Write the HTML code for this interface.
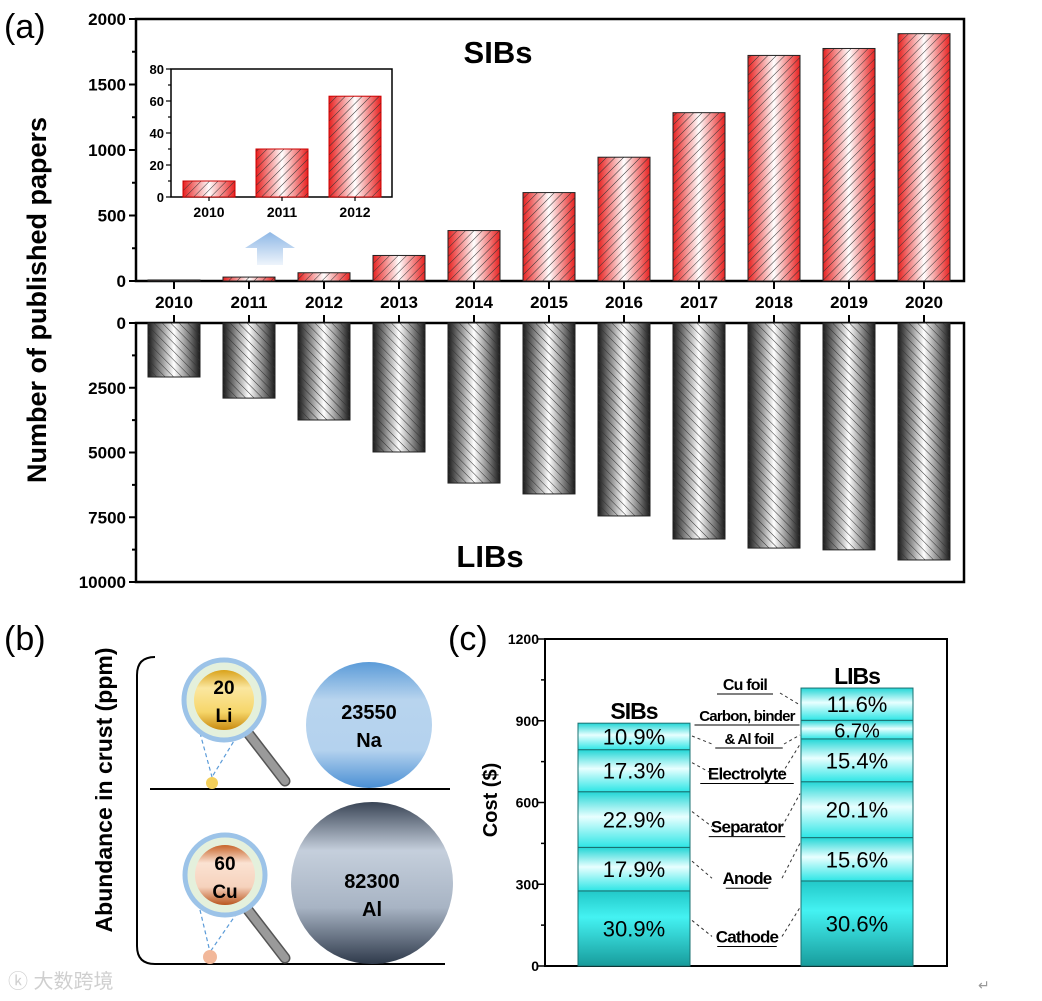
<!DOCTYPE html>
<html><head><meta charset="utf-8">
<style>
html,body{margin:0;padding:0;background:#fff;}
svg{display:block;font-family:"Liberation Sans","Noto Sans CJK SC",sans-serif;}
.b{font-weight:bold;}
</style></head>
<body>
<svg id="fig" width="1042" height="1001" viewBox="0 0 1042 1001" xmlns="http://www.w3.org/2000/svg">
<defs>
  <linearGradient id="redG" x1="0" x2="1" y1="0" y2="0">
    <stop offset="0" stop-color="#e8201f"/><stop offset="0.5" stop-color="#ffffff"/><stop offset="1" stop-color="#e8201f"/>
  </linearGradient>
  <linearGradient id="blkG" x1="0" x2="1" y1="0" y2="0">
    <stop offset="0" stop-color="#1a1a1a"/><stop offset="0.5" stop-color="#ffffff"/><stop offset="1" stop-color="#1a1a1a"/>
  </linearGradient>
  <pattern id="hatchR" width="6" height="6" patternUnits="userSpaceOnUse" patternTransform="rotate(45)">
    <line x1="0" y1="0" x2="0" y2="6" stroke="#333" stroke-width="1"/>
  </pattern>
  <pattern id="hatchB" width="6" height="6" patternUnits="userSpaceOnUse" patternTransform="rotate(-45)">
    <line x1="0" y1="0" x2="0" y2="6" stroke="#333" stroke-width="1"/>
  </pattern>
  <linearGradient id="segG" x1="0" x2="0" y1="0" y2="1">
    <stop offset="0" stop-color="#22d6d6"/><stop offset="0.45" stop-color="#e8ffff"/><stop offset="1" stop-color="#2ee6e6"/>
  </linearGradient>
  <linearGradient id="cathG" x1="0" x2="0" y1="0" y2="1">
    <stop offset="0" stop-color="#22c8c8"/><stop offset="0.35" stop-color="#44f2f2"/><stop offset="1" stop-color="#189c9c"/>
  </linearGradient>
  <linearGradient id="arrowG" x1="0" x2="0" y1="0" y2="1">
    <stop offset="0" stop-color="#8fb8e6"/><stop offset="1" stop-color="#eef4fb"/>
  </linearGradient>
  <linearGradient id="naG" x1="0" x2="0" y1="0" y2="1">
    <stop offset="0" stop-color="#5b9bd8"/><stop offset="0.3" stop-color="#b8d4ee"/><stop offset="0.7" stop-color="#b4d2ee"/><stop offset="1" stop-color="#4a8fd4"/>
  </linearGradient>
  <linearGradient id="alG" x1="0" x2="0" y1="0" y2="1">
    <stop offset="0" stop-color="#3a4556"/><stop offset="0.3" stop-color="#c5cfdc"/><stop offset="0.65" stop-color="#a8b4c4"/><stop offset="1" stop-color="#2f3a4b"/>
  </linearGradient>
  <linearGradient id="liG" x1="0" x2="0" y1="0" y2="1">
    <stop offset="0" stop-color="#d9a21a"/><stop offset="0.3" stop-color="#fbe7a0"/><stop offset="0.7" stop-color="#f6d66a"/><stop offset="1" stop-color="#c88a10"/>
  </linearGradient>
  <linearGradient id="cuG" x1="0" x2="0" y1="0" y2="1">
    <stop offset="0" stop-color="#c8652a"/><stop offset="0.3" stop-color="#fbe2d2"/><stop offset="0.7" stop-color="#f6d2bd"/><stop offset="1" stop-color="#b9561f"/>
  </linearGradient>
</defs>

<text x="4" y="38" font-size="34">(a)</text>
<text x="4" y="650" font-size="34">(b)</text>
<text x="448" y="650" font-size="34">(c)</text>

<g id="chartA"></g>
<g id="chartC"></g>

<g>
  <text transform="translate(112,790) rotate(-90)" text-anchor="middle" font-size="23" class="b">Abundance in crust (ppm)</text>
  <path d="M155,657 Q137,657 137,675 L137,946 Q137,964 155,964 L445,964" fill="none" stroke="#000" stroke-width="2"/>
  <line x1="150" y1="789" x2="450" y2="789" stroke="#000" stroke-width="2"/>
  <g>
    <line x1="248" y1="733" x2="285" y2="781" stroke="#555" stroke-width="11" stroke-linecap="round"/>
    <line x1="248" y1="733" x2="285" y2="781" stroke="#9a9a9a" stroke-width="8" stroke-linecap="round"/>
    <line x1="200" y1="733" x2="212" y2="777" stroke="#5b9bd8" stroke-width="1.2" stroke-dasharray="4,3"/>
    <line x1="237" y1="736" x2="212" y2="777" stroke="#5b9bd8" stroke-width="1.2" stroke-dasharray="4,3"/>
    <circle cx="212" cy="783" r="6" fill="#f3cf5a"/>
    <circle cx="224" cy="700" r="40" fill="#e4f0dc" stroke="#9cc3e8" stroke-width="5"/>
    <circle cx="224" cy="700" r="30" fill="url(#liG)"/>
    <text x="224" y="694" text-anchor="middle" font-size="19" class="b">20</text>
    <text x="224" y="722" text-anchor="middle" font-size="19" class="b">Li</text>
  </g>
  <g>
    <circle cx="369" cy="725" r="63" fill="url(#naG)"/>
    <text x="369" y="719" text-anchor="middle" font-size="20" class="b">23550</text>
    <text x="369" y="747" text-anchor="middle" font-size="20" class="b">Na</text>
  </g>
  <g>
    <line x1="248" y1="910" x2="285" y2="958" stroke="#555" stroke-width="11" stroke-linecap="round"/>
    <line x1="248" y1="910" x2="285" y2="958" stroke="#9a9a9a" stroke-width="8" stroke-linecap="round"/>
    <line x1="200" y1="910" x2="210" y2="952" stroke="#5b9bd8" stroke-width="1.2" stroke-dasharray="4,3"/>
    <line x1="237" y1="913" x2="210" y2="952" stroke="#5b9bd8" stroke-width="1.2" stroke-dasharray="4,3"/>
    <circle cx="210" cy="957" r="7" fill="#f2b89a"/>
    <circle cx="225" cy="875" r="40" fill="#e4f0dc" stroke="#9cc3e8" stroke-width="5"/>
    <circle cx="225" cy="875" r="30" fill="url(#cuG)"/>
    <text x="225" y="870" text-anchor="middle" font-size="19" class="b">60</text>
    <text x="225" y="898" text-anchor="middle" font-size="19" class="b">Cu</text>
  </g>
  <g>
    <circle cx="372" cy="883" r="81" fill="url(#alG)"/>
    <text x="372" y="888" text-anchor="middle" font-size="20" class="b">82300</text>
    <text x="372" y="916" text-anchor="middle" font-size="20" class="b">Al</text>
  </g>
</g>
<text x="8" y="988" font-size="20" fill="#cfcfcf">ⓚ 大数跨境</text>
<text x="978" y="990" font-size="14" fill="#999">↵</text>

<script>
const years = ["2010","2011","2012","2013","2014","2015","2016","2017","2018","2019","2020"];
const sibPapers = [8, 30, 63, 195, 385, 675, 945, 1285, 1722, 1775, 1888];
const libPapers = [2085, 2900, 3745, 4980, 6180, 6600, 7450, 8340, 8690, 8760, 9150];
const sibTicks = [0, 500, 1000, 1500, 2000];
const libTicks = [0, 2500, 5000, 7500, 10000];
const insetYears = ["2010","2011","2012"];
const insetPapers = [10, 30, 63];
const insetTicks = [0, 20, 40, 60, 80];
const costGroups = ["SIBs","LIBs"];
const sibCostPct = [30.9, 17.9, 22.9, 17.3, 10.9];
const libCostPct = [30.6, 15.6, 20.1, 15.4, 6.7, 11.6];
const sibTotal = 892;
const libTotal = 1020;
const costTicks = [0, 300, 600, 900, 1200];
const componentLabels = ["Cathode","Anode","Separator","Electrolyte"];

const NS = "http://www.w3.org/2000/svg";
function mk(tag, attrs, parent, txt){
  const e = document.createElementNS(NS, tag);
  for (const k in attrs) e.setAttribute(k, attrs[k]);
  if (txt !== undefined) e.textContent = txt;
  parent.appendChild(e);
  return e;
}

const A = document.getElementById("chartA");
const L = 136, R = 964;
const topY0 = 281, topY1 = 19;
const botY0 = 323, botY1 = 582;
const xC = i => 174 + i * 75;
const ySib = v => topY0 - (v / 2000) * (topY0 - topY1);
const yLib = v => botY0 + (v / 10000) * (botY1 - botY0);
const bw = 52;

let el;
el = mk("path", {d:`M${L},${topY1} L${R},${topY1} L${R},${topY0} L${L},${topY0} Z`, fill:"none", stroke:"#000", "stroke-width":2.5}, A);


el = mk("rect", {x:L, y:botY0, width:R-L, height:botY1-botY0, fill:"none", stroke:"#000", "stroke-width":2.5}, A);



for (let v = 0; v <= 2000; v += 250) {
  const y = ySib(v); const major = v % 500 === 0;
  el = mk("line", {x1:L-(major?7:4), y1:y, x2:L, y2:y, stroke:"#000", "stroke-width":2}, A);
  
  
}
sibTicks.forEach(v => {
  el = mk("text", {x:L-10, y:ySib(v)+6, "text-anchor":"end", "font-size":17, "font-weight":"bold"}, A, String(v));
  
  
});
for (let v = 0; v <= 10000; v += 1250) {
  const y = yLib(v); const major = v % 2500 === 0;
  el = mk("line", {x1:L-(major?7:4), y1:y, x2:L, y2:y, stroke:"#000", "stroke-width":2}, A);
  
  
}
libTicks.forEach(v => {
  el = mk("text", {x:L-10, y:yLib(v)+6, "text-anchor":"end", "font-size":17, "font-weight":"bold"}, A, String(v));
  
  
});

years.forEach((yr, i) => {
  const x = xC(i);
  el = mk("line", {x1:x, y1:topY0, x2:x, y2:topY0+8, stroke:"#000", "stroke-width":2}, A);
  
  
  el = mk("line", {x1:x, y1:botY0-8, x2:x, y2:botY0, stroke:"#000", "stroke-width":2}, A);
  
  
  el = mk("text", {x:x, y:308, "text-anchor":"middle", "font-size":17, "font-weight":"bold"}, A, yr);
  
  
  const yt = ySib(sibPapers[i]);
  const g1 = mk("g", {}, A);
  
  
  mk("rect", {x:x-bw/2, y:yt, width:bw, height:topY0-yt, fill:"url(#redG)"}, g1);
  mk("rect", {x:x-bw/2, y:yt, width:bw, height:topY0-yt, fill:"url(#hatchR)", stroke:"#222", "stroke-width":1}, g1);
  const yb = yLib(libPapers[i]);
  const g2 = mk("g", {}, A);
  
  
  mk("rect", {x:x-bw/2, y:botY0, width:bw, height:yb-botY0, fill:"url(#blkG)"}, g2);
  mk("rect", {x:x-bw/2, y:botY0, width:bw, height:yb-botY0, fill:"url(#hatchB)", stroke:"#222", "stroke-width":1}, g2);
});

el = mk("text", {transform:"translate(46,300) rotate(-90)", "text-anchor":"middle", "font-size":27, "font-weight":"bold"}, A, "Number of published papers");


el = mk("text", {x:498, y:63, "text-anchor":"middle", "font-size":31, "font-weight":"bold"}, A, "SIBs");


el = mk("text", {x:490, y:567, "text-anchor":"middle", "font-size":31, "font-weight":"bold"}, A, "LIBs");



el = mk("path", {d:"M270,232 L295,248 L283,248 L283,265 L257,265 L257,248 L245,248 Z", fill:"url(#arrowG)"}, A);



const iL = 171, iR = 392, iT = 69, iB = 197;
const yIn = v => iB - (v / 80) * (iB - iT);
const xIn = i => 209 + i * 73;
el = mk("rect", {x:iL, y:iT, width:iR-iL, height:iB-iT, fill:"#fff", stroke:"#000", "stroke-width":1.5}, A);


for (let v = 0; v <= 80; v += 10) {
  el = mk("line", {x1:iL-(v%20===0?5:3), y1:yIn(v), x2:iL, y2:yIn(v), stroke:"#000", "stroke-width":1.2}, A);
  
  
}
insetTicks.forEach(v => {
  el = mk("text", {x:iL-7, y:yIn(v)+5, "text-anchor":"end", "font-size":13, "font-weight":"bold"}, A, String(v));
  
  
});
insetYears.forEach((yr, i) => {
  const x = xIn(i), yt = yIn(insetPapers[i]);
  const g = mk("g", {}, A);
  
  
  mk("rect", {x:x-26, y:yt, width:52, height:iB-yt, fill:"url(#redG)"}, g);
  mk("rect", {x:x-26, y:yt, width:52, height:iB-yt, fill:"url(#hatchR)", stroke:"#c00", "stroke-width":1}, g);
  el = mk("line", {x1:x, y1:iB, x2:x, y2:iB+4, stroke:"#000", "stroke-width":1.2}, A);
  
  
  el = mk("text", {x:x, y:iB+20, "text-anchor":"middle", "font-size":14, "font-weight":"bold"}, A, yr);
  
  
});

const C = document.getElementById("chartC");
const cL = 545, cR = 947, cT = 639, cB = 966;
const yC = v => cB - (v / 1200) * (cB - cT);
el = mk("rect", {x:cL, y:cT, width:cR-cL, height:cB-cT, fill:"none", stroke:"#000", "stroke-width":2}, C);


for (let v = 0; v <= 1200; v += 150) {
  el = mk("line", {x1:cL-(v%300===0?7:4), y1:yC(v), x2:cL, y2:yC(v), stroke:"#000", "stroke-width":1.5}, C);
  
  
}
costTicks.forEach(v => {
  el = mk("text", {x:cL-6, y:yC(v)+5, "text-anchor":"end", "font-size":14, "font-weight":"bold"}, C, String(v));
  
  
});
el = mk("text", {transform:"translate(497,800) rotate(-90)", "text-anchor":"middle", "font-size":20, "font-weight":"bold"}, C, "Cost ($)");



function stack(pcts, total, x0, x1, name){
  let acc = 0; const bounds = [];
  pcts.forEach((p, k) => {
    const v = total * p / 100;
    const yTop = yC(acc + v), yBot = yC(acc);
    const r = mk("rect", {x:x0, y:yTop, width:x1-x0, height:yBot-yTop, fill: k===0 ? "url(#cathG)" : "url(#segG)", stroke:"#1a7070", "stroke-width":1}, C);
    
    
    const fs = (yBot - yTop) < 22 ? 20 : 22;
    const t = mk("text", {x:(x0+x1)/2, y:(yTop+yBot)/2+8, "text-anchor":"middle", "font-size":fs}, C, p.toFixed(1) + "%");
    
    
    bounds.push([yTop, yBot]);
    acc += v;
  });
  return bounds;
}
const sb = stack(sibCostPct, sibTotal, 578, 690, "sibs");
const lb = stack(libCostPct, libTotal, 801, 913, "libs");
el = mk("text", {x:634, y:yC(sibTotal)-4, "text-anchor":"middle", "font-size":23, "font-weight":"bold", "letter-spacing":"-1"}, C, costGroups[0]);


el = mk("text", {x:857, y:yC(libTotal)-4, "text-anchor":"middle", "font-size":23, "font-weight":"bold", "letter-spacing":"-1"}, C, costGroups[1]);



function lbl(txt, x, y, fs){
  const t = mk("text", {x:x, y:y, "text-anchor":"middle", "font-size":fs, "font-weight":"bold", "letter-spacing":"-0.8"}, C, txt);
  
  
  const w = txt.length * fs * 0.5;
  mk("line", {x1:x-w/2, y1:y+4, x2:x+w/2, y2:y+4, stroke:"#000", "stroke-width":1}, C);
}
function dash(x1,y1,x2,y2){
  const d = mk("line", {x1:x1, y1:y1, x2:x2, y2:y2, stroke:"#333", "stroke-width":1, "stroke-dasharray":"3,3"}, C);
  
  
}
componentLabels.forEach((name, k) => {
  const ys = (sb[k][0] + sb[k][1]) / 2, yl = (lb[k][0] + lb[k][1]) / 2;
  const ly = k === 0 ? ys + 14 : (ys + yl) / 2 + 8 + (k===1?12:k===2?10:6);
  lbl(name, 747, ly, 17);
  dash(692, ys - 8, 712, ly - 6);
  dash(782, ly - 6, 800, yl - 16);
});
lbl("Cu foil", 745, 690, 16);
dash(780, 693, 800, 705);
lbl("Carbon, binder", 747, 721, 15);
lbl("& Al foil", 749, 744, 15);
dash(692, 736, 712, 744);
dash(784, 744, 800, 735);
</script>
</svg>
</body></html>
